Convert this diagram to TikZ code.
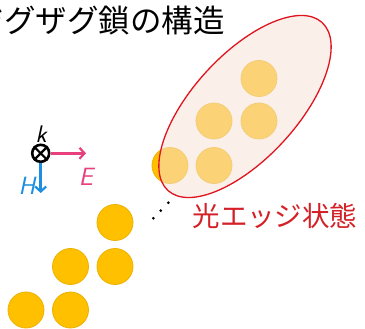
\documentclass[tikz,border=0pt]{standalone}
\usepackage{fontspec}
\newfontfamily\jp{Noto Sans CJK JP}
\usetikzlibrary{arrows.meta}
\definecolor{gold}{HTML}{FFC000}
\definecolor{golde}{HTML}{EDB200}
\definecolor{ellfill}{HTML}{F8E4D8}
\definecolor{ellred}{HTML}{E0141E}
\definecolor{epink}{HTML}{E8407E}
\definecolor{hblue}{HTML}{1E8FE0}
\definecolor{edgered}{HTML}{D42027}
\tikzset{
  atom/.style={circle, fill=gold, draw=golde, line width=0.8pt, minimum size=36pt, inner sep=0pt},
  dotc/.style={circle, fill=black, minimum size=3pt, inner sep=0pt},
  field/.style={line width=2.6pt, -{Straight Barb[length=5pt,width=11pt,line width=2.2pt]}},
}
\begin{document}
\begin{tikzpicture}[x=1pt,y=-1pt]
\useasboundingbox (0,0) rectangle (365,329);
\fill[white] (0,0) rectangle (365,329);
% title
\node[anchor=east, inner sep=0pt, font=\jp\fontsize{31.5}{34}\selectfont] (title) at (225,21) {ジグザグ鎖の構造};
% atoms
\node[atom] (a1) at (26,310) {};
\node[atom] (a2) at (70.5,310) {};
\node[atom] (a3) at (70.5,266.5) {};
\node[atom] (a4) at (115,266.5) {};
\node[atom] (a5) at (115,222.5) {};
\node[atom] (a6) at (170,165.5) {};
\node[atom] (a7) at (214,165.5) {};
\node[atom] (a8) at (214,121) {};
\node[atom] (a9) at (259,121) {};
\node[atom] (a10) at (259,78.5) {};
% ellipsis dots
\node[dotc] (d1) at (153.3,218.3) {};
\node[dotc] (d2) at (160.7,210.6) {};
\node[dotc] (d3) at (168.3,202.7) {};
% edge-state ellipse
\fill[ellfill, opacity=0.55] (245,106.5) ellipse[x radius=114, y radius=52, rotate=47.4];
\draw[ellred, line width=1.3pt] (245,106.5) ellipse[x radius=114, y radius=52, rotate=47.4];
\node[inner sep=0pt, text=edgered, font=\jp\fontsize{27.5}{30}\selectfont] (edge) at (275,216) {光エッジ状態};
% k, E, H
\node[circle, draw=black, line width=2.6pt, minimum size=17pt, inner sep=0pt] (k) at (40.7,153.3) {};
\draw[line width=2.2pt] (k.north west) -- (k.south east) (k.north east) -- (k.south west);
\coordinate (eend) at (86,153.3);
\coordinate (hend) at (40.7,193);
\draw[field, epink] (k.east) -- (eend);
\draw[field, hblue] (k.south) -- (hend);
\node[inner sep=0pt, font=\fontsize{24}{26}\selectfont\sffamily\itshape] (kl) at (41,134) {k};
\node[inner sep=0pt, text=epink, font=\fontsize{25}{27}\selectfont\sffamily\itshape] (el) at (86,177) {E};
\node[inner sep=0pt, text=hblue, font=\fontsize{25}{27}\selectfont\sffamily\itshape] (hl) at (27,186) {H};
\end{tikzpicture}
\end{document}
